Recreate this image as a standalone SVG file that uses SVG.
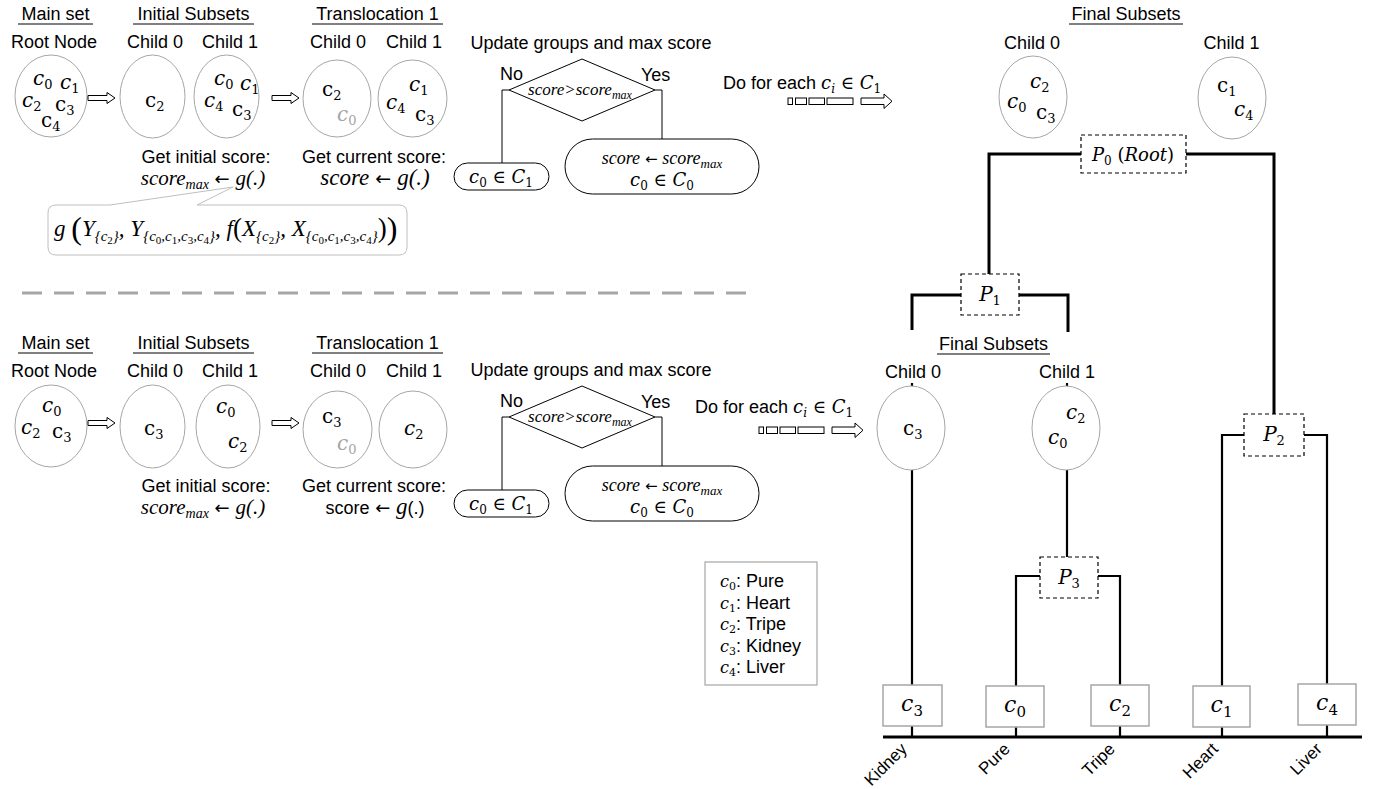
<svg xmlns="http://www.w3.org/2000/svg" width="1376" height="789" viewBox="0 0 1376 789">
<style>
.s{font-family:"Liberation Sans",Arial,sans-serif;font-size:18px;fill:#000}
.c{text-anchor:middle}
.m{font-family:"Liberation Serif","Times New Roman",serif;font-style:italic;fill:#000}
.v{font-family:"DejaVu Serif",serif;font-style:italic;fill:#000}
.r{font-family:"DejaVu Serif",serif;font-style:normal;fill:#000}
.ar{font-family:"DejaVu Sans",sans-serif;font-style:normal}
.n{font-style:normal}
.e{font-size:20px}
.sb{font-size:13px;font-style:normal}
.g{fill:#a6a6a6}
.set{fill:#fff;stroke:#a6a6a6;stroke-width:1}
.ul{stroke:#000;stroke-width:1}
.tree{fill:none;stroke:#000;stroke-width:3}
.tick{fill:none;stroke:#000;stroke-width:2.2}
.pbox{fill:#fff;stroke:#000;stroke-width:1.2;stroke-dasharray:4 3}
.leaf{fill:#fff;stroke:#a6a6a6;stroke-width:1.5}
.flow{fill:none;stroke:#000;stroke-width:1}
.shape{fill:#fff;stroke:#000;stroke-width:1}
.barr{fill:#fff;stroke:#000;stroke-width:1}
.lbl{font-family:"Liberation Sans",Arial,sans-serif;font-size:17px;fill:#000;text-anchor:end}
</style>
<rect width="1376" height="789" fill="#fff"/>

<!-- ===== TOP EXAMPLE ===== -->
<g id="top-headers">
<text class="s c" x="55.5" y="20">Main set</text><line class="ul" x1="18" y1="24" x2="93" y2="24"/>
<text class="s c" x="54" y="48">Root Node</text>
<text class="s c" x="193.5" y="20">Initial Subsets</text><line class="ul" x1="133" y1="24" x2="254" y2="24"/>
<text class="s c" x="155" y="48">Child 0</text>
<text class="s c" x="230" y="48">Child 1</text>
<text class="s c" x="377.5" y="20">Translocation 1</text><line class="ul" x1="312" y1="24" x2="443" y2="24"/>
<text class="s c" x="338" y="48">Child 0</text>
<text class="s c" x="414" y="48">Child 1</text>
<text class="s c" x="591" y="49">Update groups and max score</text>
</g>

<g id="t-root">
<ellipse class="set" cx="51" cy="96" rx="36" ry="41"/>
<text class="v e" x="33" y="85">c<tspan class="sb" dy="4">0</tspan></text>
<text class="v e" x="60" y="89">c<tspan class="sb" dy="4">1</tspan></text>
<text class="v e" x="22" y="107">c<tspan class="sb" dy="4">2</tspan></text>
<text class="r e" x="55" y="111">c<tspan class="sb" dy="4">3</tspan></text>
<text class="r e" x="41" y="127">c<tspan class="sb" dy="4">4</tspan></text>
</g>
<g id="t-init-c0">
<ellipse class="set" cx="152.5" cy="96.5" rx="32.5" ry="41.5"/>
<text class="r e" x="145" y="107">c<tspan class="sb" dy="4">2</tspan></text>
</g>
<g id="t-init-c1">
<ellipse class="set" cx="226.5" cy="96.5" rx="32.5" ry="41.5"/>
<text class="v e" x="214" y="85">c<tspan class="sb" dy="4">0</tspan></text>
<text class="v e" x="240" y="90">c<tspan class="sb" dy="4">1</tspan></text>
<text class="v e" x="204" y="107">c<tspan class="sb" dy="4">4</tspan></text>
<text class="r e" x="232" y="116">c<tspan class="sb" dy="4">3</tspan></text>
</g>
<g id="t-trans-c0">
<ellipse class="set" cx="337" cy="98.5" rx="34" ry="38.5"/>
<text class="r e" x="322" y="96">c<tspan class="sb" dy="4">2</tspan></text>
<text class="v e g" x="337" y="121">c<tspan class="sb" dy="4">0</tspan></text>
</g>
<g id="t-trans-c1">
<ellipse class="set" cx="412.5" cy="98.5" rx="34.5" ry="38.5"/>
<text class="v e" x="409" y="91">c<tspan class="sb" dy="4">1</tspan></text>
<text class="v e" x="386" y="109">c<tspan class="sb" dy="4">4</tspan></text>
<text class="r e" x="415" y="121">c<tspan class="sb" dy="4">3</tspan></text>
</g>
<g id="t-scores">
<text class="s c" x="206" y="163">Get initial score:</text>
<text class="m c" x="203" y="185" font-size="21">score<tspan font-size="14" dy="4">max</tspan><tspan class="ar" dy="-4" font-size="18"> ← </tspan>g(.)</text>
<text class="s c" x="374" y="163">Get current score:</text>
<text class="m c" x="375" y="185" font-size="23">score<tspan class="ar" font-size="19"> ← </tspan>g(.)</text>
</g>
<g id="t-callout">
<path d="M56,205 H110 L233,187 L197,205 H399 Q407,205 407,213 V247 Q407,255 399,255 H56 Q48,255 48,247 V213 Q48,205 56,205 Z" fill="#fff" stroke="#bfbfbf" stroke-width="1"/>
<text class="m" x="54" y="236" font-size="23">g <tspan class="n" font-size="32" dy="3">(</tspan><tspan dy="-3">Y</tspan><tspan font-size="15" dy="5">{c</tspan><tspan class="n" font-size="11" dy="3">2</tspan><tspan font-size="15" dy="-3">}</tspan><tspan dy="-5">, Y</tspan><tspan font-size="15" dy="5">{c</tspan><tspan class="n" font-size="11" dy="3">0</tspan><tspan font-size="15" dy="-3">,c</tspan><tspan class="n" font-size="11" dy="3">1</tspan><tspan font-size="15" dy="-3">,c</tspan><tspan class="n" font-size="11" dy="3">3</tspan><tspan font-size="15" dy="-3">,c</tspan><tspan class="n" font-size="11" dy="3">4</tspan><tspan font-size="15" dy="-3">}</tspan><tspan dy="-5">, f</tspan><tspan class="n" font-size="27" dy="1">(</tspan><tspan dy="-1">X</tspan><tspan font-size="15" dy="5">{c</tspan><tspan class="n" font-size="11" dy="3">2</tspan><tspan font-size="15" dy="-3">}</tspan><tspan dy="-5">, X</tspan><tspan font-size="15" dy="5">{c</tspan><tspan class="n" font-size="11" dy="3">0</tspan><tspan font-size="15" dy="-3">,c</tspan><tspan class="n" font-size="11" dy="3">1</tspan><tspan font-size="15" dy="-3">,c</tspan><tspan class="n" font-size="11" dy="3">3</tspan><tspan font-size="15" dy="-3">,c</tspan><tspan class="n" font-size="11" dy="3">4</tspan><tspan font-size="15" dy="-3">}</tspan><tspan class="n" font-size="27" dy="-4">)</tspan><tspan class="n" font-size="32" dy="2">)</tspan></text>
</g>
<g id="t-flow">
<text class="s" x="500" y="80" font-size="16">No</text>
<text class="s" x="641" y="81" font-size="16">Yes</text>
<path class="shape" d="M509,90 L582,59 L655,90 L582,121 Z"/>
<text class="m c" x="580" y="95" font-size="17">score&gt;score<tspan font-size="12" dy="4">max</tspan></text>
<rect class="shape" x="454" y="163" width="95" height="27" rx="13.5"/>
<text class="v c" x="501" y="183" font-size="18">c<tspan class="n" font-size="12" dy="4">0</tspan><tspan class="n" dy="-4"> ∈ </tspan>C<tspan class="n" font-size="12" dy="4">1</tspan></text>
<rect class="shape" x="565" y="139" width="194" height="55" rx="27.5"/>
<text class="m c" x="662" y="164" font-size="18">score<tspan class="ar" font-size="15"> ← </tspan>score<tspan font-size="13" dy="4">max</tspan></text>
<text class="v c" x="662" y="186" font-size="18">c<tspan class="n" font-size="12" dy="4">0</tspan><tspan class="n" dy="-4"> ∈ </tspan>C<tspan class="n" font-size="12" dy="4">0</tspan></text>
<text class="s" x="723" y="89">Do for each <tspan class="v" font-size="18">c</tspan><tspan class="v" font-size="12" dy="4">i</tspan><tspan class="r" font-size="18" dy="-4"> ∈ </tspan><tspan class="v" font-size="18">C</tspan><tspan class="r" font-size="12" dy="4">1</tspan></text>
</g>

<!-- ===== BOTTOM EXAMPLE ===== -->
<g id="bottom-headers">
<text class="s c" x="55.5" y="349">Main set</text><line class="ul" x1="18" y1="353" x2="93" y2="353"/>
<text class="s c" x="54" y="377">Root Node</text>
<text class="s c" x="193.5" y="349">Initial Subsets</text><line class="ul" x1="133" y1="353" x2="254" y2="353"/>
<text class="s c" x="155" y="377">Child 0</text>
<text class="s c" x="230" y="377">Child 1</text>
<text class="s c" x="377.5" y="349">Translocation 1</text><line class="ul" x1="312" y1="353" x2="443" y2="353"/>
<text class="s c" x="338" y="377">Child 0</text>
<text class="s c" x="414" y="377">Child 1</text>
<text class="s c" x="591" y="376">Update groups and max score</text>
</g>
<g id="b-root">
<ellipse class="set" cx="51" cy="426" rx="36" ry="41"/>
<text class="v e" x="42" y="412">c<tspan class="sb" dy="4">0</tspan></text>
<text class="v e" x="21" y="434">c<tspan class="sb" dy="4">2</tspan></text>
<text class="r e" x="52" y="438">c<tspan class="sb" dy="4">3</tspan></text>
</g>
<g id="b-init-c0">
<ellipse class="set" cx="152.5" cy="426.5" rx="32.5" ry="41.5"/>
<text class="r e" x="144" y="435">c<tspan class="sb" dy="4">3</tspan></text>
</g>
<g id="b-init-c1">
<ellipse class="set" cx="228" cy="426.5" rx="32" ry="41.5"/>
<text class="v e" x="216" y="413">c<tspan class="sb" dy="4">0</tspan></text>
<text class="v e" x="228" y="448">c<tspan class="sb" dy="4">2</tspan></text>
</g>
<g id="b-trans-c0">
<ellipse class="set" cx="337.5" cy="429.5" rx="34.5" ry="38.5"/>
<text class="r e" x="322" y="423">c<tspan class="sb" dy="4">3</tspan></text>
<text class="v e g" x="337" y="450">c<tspan class="sb" dy="4">0</tspan></text>
</g>
<g id="b-trans-c1">
<ellipse class="set" cx="413" cy="429.5" rx="34" ry="38.5"/>
<text class="v e" x="404" y="435">c<tspan class="sb" dy="4">2</tspan></text>
</g>
<g id="b-scores">
<text class="s c" x="206" y="492">Get initial score:</text>
<text class="m c" x="203" y="514" font-size="21">score<tspan font-size="14" dy="4">max</tspan><tspan class="ar" dy="-4" font-size="18"> ← </tspan>g(.)</text>
<text class="s c" x="374" y="492">Get current score:</text>
<text class="s c" x="375" y="514" font-size="19">score<tspan class="ar"> ← </tspan><tspan class="m" font-size="23">g</tspan>(.)</text>
</g>
<g id="b-flow">
<text class="s" x="500" y="407" font-size="16">No</text>
<text class="s" x="641" y="408" font-size="16">Yes</text>
<path class="shape" d="M509,417 L582,386 L655,417 L582,448 Z"/>
<text class="m c" x="580" y="422" font-size="17">score&gt;score<tspan font-size="12" dy="4">max</tspan></text>
<rect class="shape" x="454" y="490" width="95" height="27" rx="13.5"/>
<text class="v c" x="501" y="510" font-size="18">c<tspan class="n" font-size="12" dy="4">0</tspan><tspan class="n" dy="-4"> ∈ </tspan>C<tspan class="n" font-size="12" dy="4">1</tspan></text>
<rect class="shape" x="565" y="466" width="194" height="55" rx="27.5"/>
<text class="m c" x="662" y="491" font-size="18">score<tspan class="ar" font-size="15"> ← </tspan>score<tspan font-size="13" dy="4">max</tspan></text>
<text class="v c" x="662" y="513" font-size="18">c<tspan class="n" font-size="12" dy="4">0</tspan><tspan class="n" dy="-4"> ∈ </tspan>C<tspan class="n" font-size="12" dy="4">0</tspan></text>
<text class="s" x="695" y="413">Do for each <tspan class="v" font-size="18">c</tspan><tspan class="v" font-size="12" dy="4">i</tspan><tspan class="r" font-size="18" dy="-4"> ∈ </tspan><tspan class="v" font-size="18">C</tspan><tspan class="r" font-size="12" dy="4">1</tspan></text>
</g>

<!-- separator -->
<line x1="22" y1="293" x2="752" y2="293" stroke="#a6a6a6" stroke-width="3" stroke-dasharray="20 12"/>

<!-- legend -->
<g id="legend">
<rect x="705" y="562" width="112" height="123" fill="#fff" stroke="#a6a6a6" stroke-width="1.2"/>
<text class="s" x="720" y="587" font-size="16"><tspan class="v" font-size="16">c</tspan><tspan class="r" font-size="11" dy="3">0</tspan><tspan dy="-3">: Pure</tspan></text>
<text class="s" x="720" y="609" font-size="16"><tspan class="v" font-size="16">c</tspan><tspan class="r" font-size="11" dy="3">1</tspan><tspan dy="-3">: Heart</tspan></text>
<text class="s" x="720" y="630" font-size="16"><tspan class="v" font-size="16">c</tspan><tspan class="r" font-size="11" dy="3">2</tspan><tspan dy="-3">: Tripe</tspan></text>
<text class="s" x="720" y="652" font-size="16"><tspan class="v" font-size="16">c</tspan><tspan class="r" font-size="11" dy="3">3</tspan><tspan dy="-3">: Kidney</tspan></text>
<text class="s" x="720" y="673" font-size="16"><tspan class="v" font-size="16">c</tspan><tspan class="r" font-size="11" dy="3">4</tspan><tspan dy="-3">: Liver</tspan></text>
</g>

<!-- connectors -->
<g id="connectors">
<path class="barr" d="M88,95.5 H107 V92.5 L115,98 L107,103.5 V100.5 H88 Z"/>
<path class="barr" d="M272,95.5 H291 V92.5 L299,98 L291,103.5 V100.5 H272 Z"/>
<path class="barr" d="M88,420.5 H107 V417.5 L115,423 L107,428.5 V425.5 H88 Z"/>
<path class="barr" d="M272,420.5 H291 V417.5 L299,423 L291,428.5 V425.5 H272 Z"/>
<path class="flow" d="M509,90 H502 V163"/>
<path class="flow" d="M655,90 H662 V139"/>
<path class="flow" d="M509,417 H502 V490"/>
<path class="flow" d="M655,417 H662 V466"/>
<g class="barr">
<rect x="788" y="98" width="4.5" height="6.5"/><rect x="795.5" y="98" width="11" height="6.5"/><rect x="809" y="98" width="15.5" height="6.5"/><rect x="827" y="98" width="26" height="6.5"/>
<path d="M861,98 H884 V94 L892,101.25 L884,108.5 V104.5 H861 Z"/>
<rect x="759" y="427" width="4.5" height="6.5"/><rect x="766.5" y="427" width="11" height="6.5"/><rect x="780" y="427" width="15.5" height="6.5"/><rect x="798" y="427" width="26" height="6.5"/>
<path d="M832,427 H855 V423 L863,430.25 L855,437.5 V433.5 H832 Z"/>
</g>
<path class="tree" d="M1081,154 H989 V274"/>
<path class="tree" d="M1186,154 H1274 V414"/>
<path class="tree" d="M961,295 H912 V330"/>
<path class="tree" d="M1019,295 H1068 V332"/>
<path class="tick" d="M912,383 V387 M1067,383 V387"/>
<path class="tick" d="M912,470 V737"/>
<path class="tick" d="M1067,470 V557"/>
<path class="tick" d="M1040,576 H1016 V737"/>
<path class="tick" d="M1098,576 H1120 V737"/>
<path class="tick" d="M1244,435 H1222 V737"/>
<path class="tick" d="M1304,435 H1327 V737"/>
<path class="tree" d="M883,737 H1362"/>
</g>

<!-- final subsets top -->
<g id="final-top">
<text class="s c" x="1126" y="20">Final Subsets</text><line class="ul" x1="1069" y1="24" x2="1183" y2="24"/>
<text class="s c" x="1032" y="49">Child 0</text>
<text class="s c" x="1231.5" y="49">Child 1</text>
<ellipse class="set" cx="1033" cy="97" rx="34" ry="41"/>
<text class="v e" x="1030" y="88">c<tspan class="sb" dy="4">2</tspan></text>
<text class="v e" x="1007" y="108">c<tspan class="sb" dy="4">0</tspan></text>
<text class="r e" x="1036" y="119">c<tspan class="sb" dy="4">3</tspan></text>
<ellipse class="set" cx="1232" cy="98" rx="34" ry="41"/>
<text class="r e" x="1217" y="92">c<tspan class="sb" dy="4">1</tspan></text>
<text class="v e" x="1234" y="116">c<tspan class="sb" dy="4">4</tspan></text>
</g>
<g id="P0">
<rect class="pbox" x="1081" y="135" width="105" height="38"/>
<text class="v c" x="1133" y="161" font-size="18">P<tspan class="n" font-size="12" dy="4">0</tspan><tspan class="n" dy="-4"> (</tspan>Root<tspan class="n">)</tspan></text>
</g>
<g id="P1">
<rect class="pbox" x="961" y="274" width="58" height="41"/>
<text class="v c" x="990" y="301" font-size="20">P<tspan class="n" font-size="13" dy="4">1</tspan></text>
</g>
<g id="final-bottom">
<text class="s c" x="993.5" y="350">Final Subsets</text><line class="ul" x1="937" y1="354" x2="1050" y2="354"/>
<text class="s c" x="913" y="378">Child 0</text>
<text class="s c" x="1067" y="378">Child 1</text>
<ellipse class="set" cx="911" cy="428" rx="34" ry="42"/>
<text class="r e" x="903" y="435">c<tspan class="sb" dy="4">3</tspan></text>
<ellipse class="set" cx="1066" cy="428" rx="34" ry="42"/>
<text class="v e" x="1066" y="419">c<tspan class="sb" dy="4">2</tspan></text>
<text class="v e" x="1048" y="444">c<tspan class="sb" dy="4">0</tspan></text>
</g>
<g id="P2">
<rect class="pbox" x="1244" y="414" width="60" height="42"/>
<text class="v c" x="1274" y="441" font-size="20">P<tspan class="n" font-size="13" dy="4">2</tspan></text>
</g>
<g id="P3">
<rect class="pbox" x="1040" y="557" width="58" height="41"/>
<text class="v c" x="1069" y="584" font-size="20">P<tspan class="n" font-size="13" dy="4">3</tspan></text>
</g>
<g id="leaves">
<rect class="leaf" x="883" y="685" width="59" height="41"/>
<text class="v c" x="912" y="711" font-size="22">c<tspan class="n" font-size="15" dy="5">3</tspan></text>
<rect class="leaf" x="986" y="686" width="58" height="41"/>
<text class="v c" x="1015" y="712" font-size="22">c<tspan class="n" font-size="15" dy="5">0</tspan></text>
<rect class="leaf" x="1091" y="685" width="58" height="41"/>
<text class="v c" x="1120" y="711" font-size="22">c<tspan class="n" font-size="15" dy="5">2</tspan></text>
<rect class="leaf" x="1193" y="686" width="57" height="41"/>
<text class="v c" x="1221.5" y="712" font-size="22">c<tspan class="n" font-size="15" dy="5">1</tspan></text>
<rect class="leaf" x="1298" y="684" width="58" height="41"/>
<text class="v c" x="1327" y="710" font-size="22">c<tspan class="n" font-size="15" dy="5">4</tspan></text>
</g>
<g id="leaf-labels">
<text class="lbl" transform="translate(908,750) rotate(-45)">Kidney</text>
<text class="lbl" transform="translate(1011,750) rotate(-45)">Pure</text>
<text class="lbl" transform="translate(1116,750) rotate(-45)">Tripe</text>
<text class="lbl" transform="translate(1219,750) rotate(-45)">Heart</text>
<text class="lbl" transform="translate(1323,750) rotate(-45)">Liver</text>
</g>
</svg>
